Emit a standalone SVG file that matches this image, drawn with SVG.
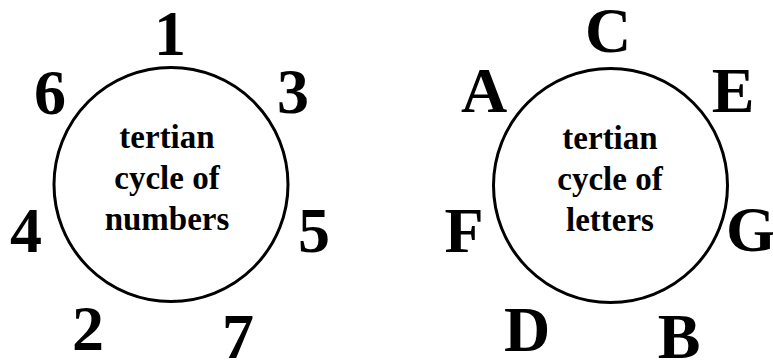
<svg xmlns="http://www.w3.org/2000/svg" width="773" height="360" viewBox="0 0 773 360">
<style>
.ring{fill:none;stroke:#000;stroke-width:3}
.big{font-family:"Liberation Serif","Times New Roman",serif;font-weight:bold;font-size:64px;fill:#000;text-anchor:middle}
.mid{font-family:"Liberation Serif","Times New Roman",serif;font-weight:bold;font-size:33px;fill:#000;text-anchor:middle}
</style>
<rect width="773" height="360" fill="#fff"/>
<g id="numbers-cycle">
<circle class="ring" cx="171" cy="184.5" r="117"/>
<text class="mid" x="167" y="148">tertian</text>
<text class="mid" x="167" y="189">cycle of</text>
<text class="mid" x="167" y="230">numbers</text>
</g>
<g id="letters-cycle">
<circle class="ring" cx="610.5" cy="185.5" r="117"/>
<text class="mid" x="610" y="149">tertian</text>
<text class="mid" x="610" y="190">cycle of</text>
<text class="mid" x="610" y="231">letters</text>
</g>
<g id="n1"><text class="big" x="170" y="55">1</text></g>
<g id="n6"><text class="big" x="50" y="114">6</text></g>
<g id="n3"><text class="big" x="293" y="113">3</text></g>
<g id="n4"><text class="big" x="26" y="252">4</text></g>
<g id="n5"><text class="big" x="314" y="252">5</text></g>
<g id="n2"><text class="big" x="88" y="350">2</text></g>
<g id="n7"><text class="big" x="238" y="358">7</text></g>
<g id="lC"><text class="big" x="608" y="52">C</text></g>
<g id="lA"><text class="big" x="484" y="112">A</text></g>
<g id="lE"><text class="big" x="733" y="112">E</text></g>
<g id="lF"><text class="big" x="464" y="252">F</text></g>
<g id="lG"><text class="big" x="751" y="251">G</text></g>
<g id="lD"><text class="big" x="527" y="351">D</text></g>
<g id="lB"><text class="big" x="679" y="358">B</text></g>
<g id="connectors"></g>
</svg>
